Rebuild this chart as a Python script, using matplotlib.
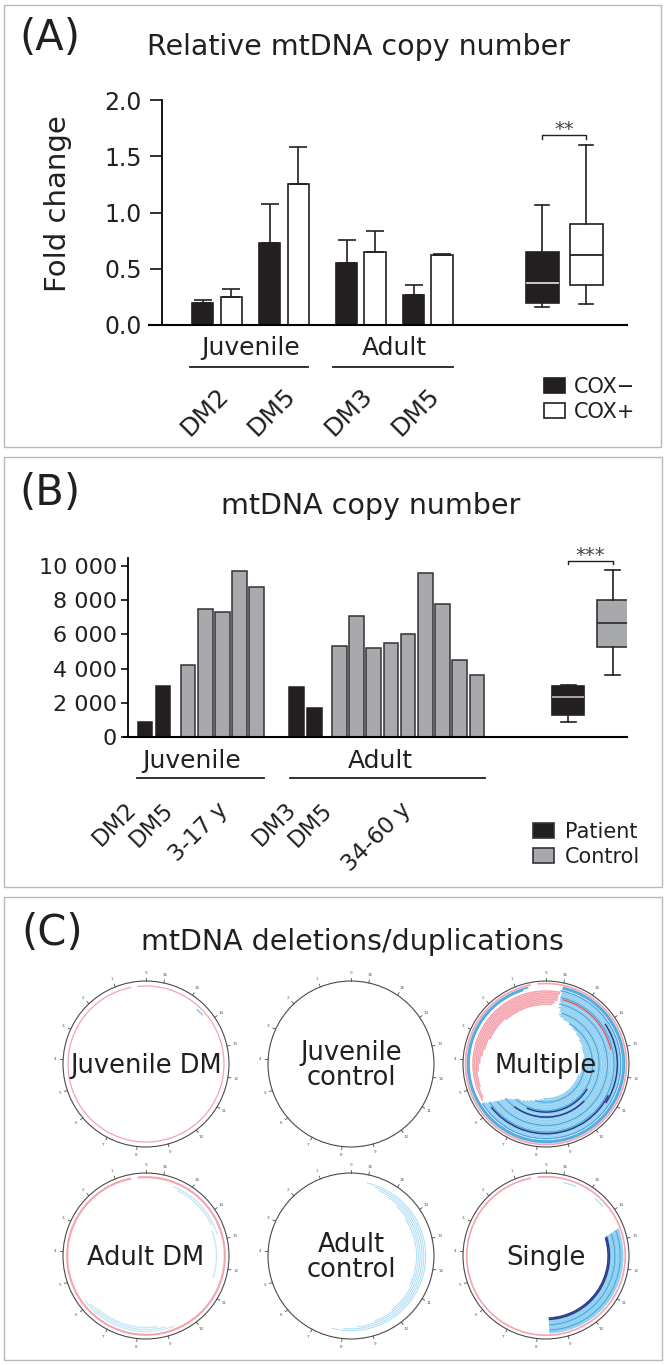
import numpy as np
import matplotlib
matplotlib.use("Agg")
import matplotlib.pyplot as plt
from matplotlib.patches import Rectangle, Arc, Circle

plt.rcParams['font.family'] = ['DejaVu Sans']
INK = '#231f20'
GREY = '#a7a9ac'
FRAME = '#b8b8b8'
plt.rcParams['text.color'] = INK

# ---- (A) relative mtDNA copy number (fold change)
a_patients = ['DM2', 'DM5', 'DM3', 'DM5']
cox_neg_mean = [0.20, 0.73, 0.55, 0.27]
cox_neg_sd = [0.02, 0.35, 0.21, 0.09]
cox_pos_mean = [0.25, 1.25, 0.65, 0.62]
cox_pos_sd = [0.07, 0.33, 0.19, 0.01]
cox_neg_box = dict(whislo=0.16, q1=0.20, med=0.37, q3=0.65, whishi=1.07)
cox_pos_box = dict(whislo=0.19, q1=0.355, med=0.62, q3=0.90, whishi=1.60)

# ---- (B) mtDNA copy number
juv_patients = ['DM2', 'DM5']
juv_patient_cn = [900, 3000]
juv_control_cn = [4200, 7500, 7300, 9700, 8800]
adult_patients = ['DM3', 'DM5']
adult_patient_cn = [2900, 1700]
adult_control_cn = [5300, 7100, 5200, 5500, 6000, 9600, 7800, 4500, 3650]
patient_box = dict(whislo=880, q1=1300, med=2330, q3=3000, whishi=3030)
control_box = dict(whislo=3650, q1=5250, med=6650, q3=8000, whishi=9750)

# ---- (C) deletions / duplications, (start kb, end kb) counter-clockwise
MT_LEN = 16.569
circle_titles = ['Juvenile DM', 'Juvenile\ncontrol', 'Multiple',
                 'Adult DM', 'Adult\ncontrol', 'Single']
juv_dm_dup = [(0.5, 16.85)]
juv_dm_del = [(14.3, 14.6)]
adult_dm_dup = [(0.5, 16.85)]
adult_dm_del = [(5.8, 9.3), (13.2, 15.6), (6.0, 9.0), (13.6, 15.4), (6.3, 8.7), (11.6, 13.4)]
adult_ctrl_del = [(7.6, 16.0), (8.0, 15.7), (8.5, 15.5), (9.2, 15.1), (10.0, 14.6), (11.2, 14.0)]
multi_dup_ring = [(0.5, 16.85)]
multi_del_outer = [(0.6, 16.0), (0.8, 16.0)]
multi_dup = [(16.05, 22.10), (16.05, 22.00), (16.10, 21.60), (16.10, 21.00), (16.10, 20.70),
             (16.10, 20.40), (16.20, 20.10), (16.20, 19.60), (16.30, 18.50)]
multi_del = [(5.60, 16.05), (5.60, 16.00), (5.65, 16.00), (5.70, 16.00), (5.70, 16.00),
             (5.75, 16.00), (5.80, 16.00), (5.80, 15.95), (5.85, 16.00), (5.90, 15.90),
             (5.90, 16.00), (5.95, 15.90), (6.00, 15.90), (6.00, 15.80), (6.10, 15.90),
             (6.20, 15.80), (6.30, 15.60), (6.40, 15.20), (6.50, 14.90), (6.80, 14.50),
             (7.00, 14.10), (7.20, 13.60), (7.50, 12.80), (7.80, 12.20), (8.10, 11.60)]
multi_del_level = [1, 0, 0, 0, 1, 0, 0, 0, 1, 0, 0, 0, 0, 1, 0, 0, 0, 1, 0, 0, 0, 0, 1, 0, 0]
multi_del_dark = [(5.9, 11.2), (10.9, 14.0), (6.6, 10.4), (7.2, 11.0)]
multi_dup_dark = [(13.0, 15.9)]
single_dup = [(0.5, 16.85)]
single_del = [(8.40, 13.40), (8.40, 13.38), (8.40, 13.36), (8.40, 13.35), (8.40, 13.33),
              (8.40, 13.32), (8.40, 13.30), (8.40, 13.30), (8.40, 13.28), (8.40, 13.27),
              (8.40, 13.25), (8.40, 13.22)]
single_del_level = [0, 0, 1, 0, 0, 0, 1, 0, 0, 0, 2, 2]
single_del_minor = [(14.3, 14.7), (15.5, 15.95)]

DUP = '#f5a3ad'
DUP_DARK = '#e95565'
DEL_COL = ['#8fd0f0', '#4fa9e0', '#2a3b8a']

W, H = 666, 1365
fig = plt.figure(figsize=(W / 100, H / 100), dpi=100)


def frect(l, t, w, h):
    return [l / W, 1 - (t + h) / H, w / W, h / H]


def fx(x):
    return x / W


def fy(y):
    return 1 - y / H


# panel frames, labels, titles
for l, t, r, b in [(4, 5, 661, 447), (4, 457, 662, 887), (4, 897, 662, 1360)]:
    fig.patches.append(Rectangle((fx(l), fy(b)), fx(r) - fx(l), fy(t) - fy(b),
                                 transform=fig.transFigure, fill=False, ec=FRAME, lw=1))
for lab, x, y in [('(A)', 19, 50), ('(B)', 19, 505), ('(C)', 21, 945)]:
    fig.text(fx(x), fy(y), lab, fontsize=30, ha='left', va='baseline')
fig.text(fx(359), fy(55), 'Relative mtDNA copy number', fontsize=20.5, ha='center', va='baseline')
fig.text(fx(371), fy(514), 'mtDNA copy number', fontsize=20.5, ha='center', va='baseline')
fig.text(fx(352), fy(950), 'mtDNA deletions/duplications', fontsize=20.5, ha='center', va='baseline')


def style_axis(ax, spine_x):
    for s in ['top', 'right']:
        ax.spines[s].set_visible(False)
    ax.spines['left'].set_position(('data', spine_x))
    ax.spines['left'].set_linewidth(1.3)
    ax.spines['bottom'].set_linewidth(1.5)
    ax.set_xticks([])
    ax.patch.set_alpha(0)


# ---------------- (A)
axA = fig.add_axes(frect(149, 100, 478, 225))
axA.set_xlim(-2.38, 14.39)
axA.set_ylim(0, 2.0)
style_axis(axA, -1.92)
axA.set_yticks(np.arange(0, 2.01, 0.5))
axA.set_yticklabels([f'{v:.1f}' for v in np.arange(0, 2.01, 0.5)])
axA.tick_params(axis='y', length=8.5, width=1.3, pad=6, labelsize=17, colors=INK)

pair_x = np.arange(len(a_patients)) * 2.35 + np.array([0, 0, 0.35, 0.35])
axA.bar(pair_x - 0.5, cox_neg_mean, width=0.74, color=INK, edgecolor=INK, lw=1.2, zorder=2)
axA.bar(pair_x + 0.5, cox_pos_mean, width=0.74, color='white', edgecolor=INK, lw=1.2, zorder=2)
for xs, m, sd in [(pair_x - 0.5, cox_neg_mean, cox_neg_sd), (pair_x + 0.5, cox_pos_mean, cox_pos_sd)]:
    axA.errorbar(xs, m, yerr=[np.zeros(len(m)), sd], fmt='none', ecolor=INK,
                 elinewidth=1.2, capsize=6.8, capthick=1.2, zorder=3)

boxA_x = [11.42, 12.96]
bA = axA.bxp([cox_neg_box, cox_pos_box], positions=boxA_x, widths=1.16, capwidths=0.5,
             patch_artist=True, showfliers=False, manage_ticks=False,
             whiskerprops=dict(color=INK, lw=1.2), capprops=dict(color=INK, lw=1.2),
             boxprops=dict(edgecolor=INK, lw=1.2), medianprops=dict(lw=1.3))
bA['boxes'][0].set_facecolor(INK)
bA['boxes'][1].set_facecolor('white')
bA['medians'][0].set_color('#d8d8d8')
bA['medians'][1].set_color(INK)
axA.plot([boxA_x[0], boxA_x[0], boxA_x[1], boxA_x[1]], [1.65, 1.69, 1.69, 1.65],
         color=INK, lw=1, clip_on=False)
axA.text(np.mean(boxA_x), 1.69, '**', fontsize=14, ha='center', va='baseline', color='#444')

tA = axA.get_xaxis_transform()
axA.text(pair_x[:2].mean(), -0.133, 'Juvenile', transform=tA, fontsize=18, ha='center', va='baseline')
axA.text(pair_x[2:].mean(), -0.133, 'Adult', transform=tA, fontsize=18, ha='center', va='baseline')
axA.plot([-0.94, 3.2], [-0.187, -0.187], transform=tA, color=INK, lw=1.3, clip_on=False)
axA.plot([4.08, 8.29], [-0.187, -0.187], transform=tA, color=INK, lw=1.3, clip_on=False)
for x, lab in zip(pair_x, a_patients):
    axA.text(x + 0.57, -0.258, lab, transform=tA, fontsize=18, rotation=45, ha='right', va='top')

fig.text(fx(58), fy(204), 'Fold change', rotation=90, fontsize=21, ha='center', va='center')
for i, (fc, lab) in enumerate([(INK, 'COX\u2212'), ('white', 'COX+')]):
    fig.patches.append(Rectangle((fx(544), fy(393 + 25 * i)), 21 / W, 15 / H, transform=fig.transFigure,
                                 fc=fc, ec=INK, lw=1.2))
    fig.text(fx(574), fy(393 + 25 * i), lab, fontsize=15, ha='left', va='baseline')

# ---------------- (B)
axB = fig.add_axes(frect(124, 558, 503, 179))
axB.set_xlim(-1.22, 28.02)
axB.set_ylim(0, 10470)
style_axis(axB, -0.99)
yt = np.arange(0, 10001, 2000)
axB.set_yticks(yt)
axB.set_yticklabels([f'{v:,}'.replace(',', ' ') for v in yt])
axB.tick_params(axis='y', length=5, width=1.3, pad=3, labelsize=16, colors=INK)

jp_x = np.array([0, 1.05])
jc_x = 2.5 + np.arange(len(juv_control_cn))
ap_x = np.array([8.8, 9.85])
ac_x = 11.3 + np.arange(len(adult_control_cn))
axB.bar(jp_x, juv_patient_cn, width=0.85, color=INK, edgecolor=INK, lw=1.1)
axB.bar(ap_x, adult_patient_cn, width=0.85, color=INK, edgecolor=INK, lw=1.1)
axB.bar(jc_x, juv_control_cn, width=0.85, color=GREY, edgecolor='#333333', lw=1.1)
axB.bar(ac_x, adult_control_cn, width=0.85, color=GREY, edgecolor='#333333', lw=1.1)

boxB_x = [24.6, 27.2]
bB = axB.bxp([patient_box, control_box], positions=boxB_x, widths=1.86, capwidths=0.87,
             patch_artist=True, showfliers=False, manage_ticks=False,
             whiskerprops=dict(color=INK, lw=1.2), capprops=dict(color=INK, lw=1.2),
             boxprops=dict(edgecolor=INK, lw=1.2), medianprops=dict(lw=1.3))
bB['boxes'][0].set_facecolor(INK)
bB['boxes'][1].set_facecolor(GREY)
bB['boxes'][1].set_edgecolor('#333333')
bB['medians'][0].set_color('#b0b0b0')
bB['medians'][1].set_color('#333333')
axB.plot([boxB_x[0], boxB_x[0], boxB_x[1], boxB_x[1]], [10100, 10300, 10300, 10100],
         color=INK, lw=1, clip_on=False)
axB.text(np.mean(boxB_x), 10300, '***', fontsize=14, ha='center', va='baseline', color='#444',
         clip_on=False)

tB = axB.get_xaxis_transform()
axB.text(2.73, -0.173, 'Juvenile', transform=tB, fontsize=18, ha='center', va='baseline')
axB.text(13.66, -0.173, 'Adult', transform=tB, fontsize=18, ha='center', va='baseline')
axB.plot([-0.47, 6.92], [-0.229, -0.229], transform=tB, color=INK, lw=1.3, clip_on=False)
axB.plot([8.43, 19.77], [-0.229, -0.229], transform=tB, color=INK, lw=1.3, clip_on=False)
b_labels = juv_patients + ['3-17 y'] + adult_patients + ['34-60 y']
b_anchor = [jp_x[0] - 0.23, jp_x[1] + 0.9, jc_x.mean() + 0.56,
            ap_x[0] + 0.27, ap_x[1] + 1.33, ac_x.mean() + 0.46]
for x, lab in zip(b_anchor, b_labels):
    axB.text(x, -0.341, lab, transform=tB, fontsize=16.5, rotation=45, ha='right', va='top')

for i, (fc, lab) in enumerate([(INK, 'Patient'), (GREY, 'Control')]):
    fig.patches.append(Rectangle((fx(533), fy(838 + 25 * i)), 21 / W, 15 / H, transform=fig.transFigure,
                                 fc=fc, ec='#333333', lw=1.2))
    fig.text(fx(565), fy(838 + 25 * i), lab, fontsize=15, ha='left', va='baseline')


# ---------------- (C)
def kb_deg(k):
    return 90 + k / MT_LEN * 360


def draw_arcs(ax, spans, r_top, step, colors, lw):
    for i, (s, e) in enumerate(spans):
        r = r_top - step * i
        c = colors[i] if isinstance(colors, list) else colors
        ax.add_patch(Arc((0, 0), 2 * r, 2 * r, theta1=kb_deg(s), theta2=kb_deg(e),
                         color=c, lw=lw, capstyle='butt'))


centers = [(146, 1064), (351, 1064), (546, 1064), (146, 1256), (351, 1256), (546, 1256)]
axC = []
for (cx, cy), name in zip(centers, circle_titles):
    ax = fig.add_axes(frect(cx - 100, cy - 100, 200, 200))
    ax.set_xlim(-1.205, 1.205)
    ax.set_ylim(-1.205, 1.205)
    ax.set_aspect('equal')
    ax.axis('off')
    ax.add_patch(Circle((0, 0), 1.0, fill=False, ec='#4a4a4a', lw=0.8))
    for k in range(17):
        a = np.deg2rad(kb_deg(k))
        ax.plot([np.cos(a), 1.035 * np.cos(a)], [np.sin(a), 1.035 * np.sin(a)], color='#4a4a4a', lw=0.6)
        ax.text(1.1 * np.cos(a), 1.1 * np.sin(a), str(k), fontsize=3, color='#555555',
                ha='center', va='center')
    axC.append(ax)

draw_arcs(axC[0], juv_dm_dup, 0.94, 0, DUP, 0.9)
draw_arcs(axC[0], juv_dm_del, 0.90, 0, DEL_COL[0], 1.2)

draw_arcs(axC[2], multi_dup_ring, 0.97, 0, DUP, 1.2)
draw_arcs(axC[2], multi_del_outer, 0.945, 0.017, DEL_COL[1], 1.2)
draw_arcs(axC[2], multi_del, 0.90, 0.02, [DEL_COL[v] for v in multi_del_level], 1.15)
draw_arcs(axC[2], multi_dup, 0.88, 0.02, DUP, 1.1)
for (s, e), r in zip(multi_del_dark, [0.84, 0.86, 0.64, 0.58]):
    draw_arcs(axC[2], [(s, e)], r, 0, DEL_COL[2], 1.1)
draw_arcs(axC[2], multi_dup_dark, 0.80, 0, DUP_DARK, 1.0)

draw_arcs(axC[3], adult_dm_dup, 0.95, 0, DUP, 1.5)
draw_arcs(axC[3], adult_dm_del, 0.91, 0.012, '#c7e8f7', 1.0)

draw_arcs(axC[4], adult_ctrl_del, 0.90, 0.022, '#a9dcf2', 0.7)

draw_arcs(axC[5], single_dup, 0.955, 0, DUP, 1.2)
draw_arcs(axC[5], single_del, 0.925, 0.016, [DEL_COL[v] for v in single_del_level], 1.15)
draw_arcs(axC[5], single_del_minor, 0.91, 0, '#b5e1f5', 1.0)

for ax, name in zip(axC, circle_titles):
    ax.text(0, -0.02, name, fontsize=18.5, ha='center', va='center', linespacing=0.95, zorder=5)

fig.savefig('out.png', dpi=100)
